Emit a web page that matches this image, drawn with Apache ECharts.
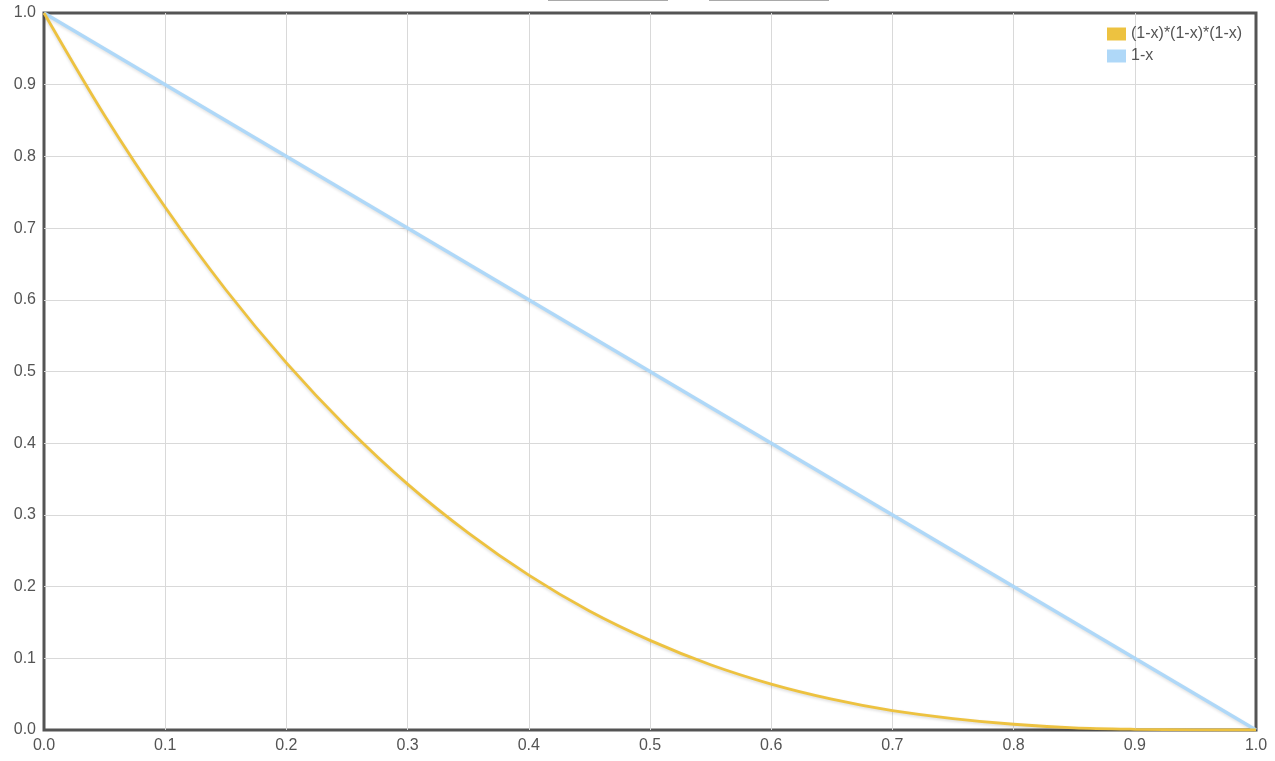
<!DOCTYPE html>
<html>
<head>
<meta charset="utf-8">
<script src="https://cdn.jsdelivr.net/npm/echarts@6/dist/echarts.min.js"></script>
<style>
html,body{margin:0;padding:0;background:#fff;}
#chart{width:1275px;height:761px;}
</style>
</head>
<body>
<div id="chart"></div>
<script>
// x positions of the sampled points
var xValues = [0, 0.05, 0.1, 0.15, 0.2, 0.25, 0.3, 0.35, 0.4, 0.45, 0.5, 0.55, 0.6, 0.65, 0.7, 0.75, 0.8, 0.85, 0.9, 0.95, 1.0];
// (1-x)*(1-x)*(1-x)
var cubicValues = [1.0, 0.857, 0.729, 0.614, 0.512, 0.422, 0.343, 0.275, 0.216, 0.166, 0.125, 0.091, 0.064, 0.043, 0.027, 0.016, 0.008, 0.003, 0.001, 0.0001, 0.0];
// 1-x
var linearX = [0, 1.0];
var linearValues = [1.0, 0.0];
var seriesNames = ['(1-x)*(1-x)*(1-x)', '1-x'];

function pairs(xs, ys) { return xs.map(function (x, i) { return [x, ys[i]]; }); }

var chart = echarts.init(document.getElementById('chart'), null, {renderer: 'canvas'});
var labelStyle = {color: '#545454', fontSize: 16, fontFamily: 'Liberation Sans, Arial, sans-serif'};
function axisCommon() {
  return {
    type: 'value', min: 0, max: 1, interval: 0.1,
    axisLine: {show: false}, axisTick: {show: false},
    splitLine: {show: true, showMinLine: false, showMaxLine: false, lineStyle: {color: '#d9d9d9', width: 1}},
    axisLabel: Object.assign({margin: 8, formatter: function (v) { return v.toFixed(1); }}, labelStyle)
  };
}
chart.setOption({
  animation: false,
  backgroundColor: '#fff',
  grid: {left: 44, right: 19, top: 13, bottom: 31, show: true, borderColor: '#545454', borderWidth: 3, backgroundColor: 'transparent'},
  xAxis: axisCommon(),
  yAxis: axisCommon(),
  legend: {
    orient: 'vertical', left: 1102, top: 21, itemGap: 6,
    itemWidth: 19, itemHeight: 13, icon: 'rect',
    textStyle: labelStyle,
    data: seriesNames
  },
  graphic: [
    {type: 'rect', shape: {x: 548, y: 0, width: 120, height: 1}, style: {fill: '#a9a9a9'}},
    {type: 'rect', shape: {x: 709, y: 0, width: 120, height: 1}, style: {fill: '#a9a9a9'}}
  ],
  series: [
    {
      name: seriesNames[0], type: 'line', data: pairs(xValues, cubicValues), smooth: 0.3,
      showSymbol: false, color: '#edc240', z: 3,
      lineStyle: {width: 2.8, color: '#edc240', shadowColor: 'rgba(0,0,0,0.15)', shadowBlur: 3, shadowOffsetY: 1.5}
    },
    {
      name: seriesNames[1], type: 'line', data: pairs(linearX, linearValues),
      showSymbol: false, color: '#afd8f8', z: 2,
      lineStyle: {width: 3.5, color: '#afd8f8', shadowColor: 'rgba(0,0,0,0.12)', shadowBlur: 3, shadowOffsetY: 1.5}
    }
  ]
});
</script>
</body>
</html>
